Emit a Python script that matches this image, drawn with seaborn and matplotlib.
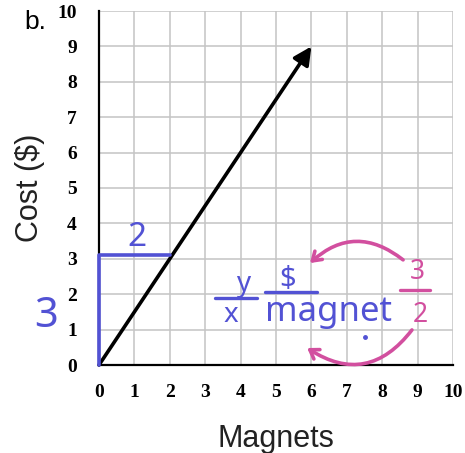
import matplotlib
matplotlib.use("Agg")
import matplotlib.pyplot as plt
from matplotlib.patches import FancyArrowPatch
import seaborn as sns
import pandas as pd

# Line: cost of magnets
magnets = [0, 6]
cost = [0, 9]
x_ticks = list(range(0, 11))
y_ticks = list(range(0, 11))

# Slope triangle: rise over run
run = 2
rise = 3

sns.set_theme(style="white")
plt.rcParams["font.family"] = ["Liberation Sans", "DejaVu Sans"]

BLUE = "#5252d4"
PINK = "#d24f9f"

fig = plt.figure(figsize=(4.65, 4.53), dpi=100)
ax = fig.add_axes([99 / 465, 1 - 365 / 453, 354 / 465, 354 / 453])

df = pd.DataFrame({"Magnets": magnets, "Cost": cost})
sns.lineplot(data=df, x="Magnets", y="Cost", ax=ax, color="black", lw=0)

ax.set_xlim(0, 10)
ax.set_ylim(0, 10)
ax.set_xticks(x_ticks)
ax.set_yticks(y_ticks)
ax.grid(True, color="#c4c4c4", lw=1.1)
ax.set_axisbelow(True)

for side in ["top", "right"]:
    ax.spines[side].set_visible(False)
for side in ["left", "bottom"]:
    ax.spines[side].set_color("black")
    ax.spines[side].set_linewidth(1.6)

ax.tick_params(axis="both", direction="inout", length=8, width=1.5,
               colors="black")
ax.tick_params(axis="x", pad=10)
ax.tick_params(axis="y", pad=12)
for lab in ax.get_xticklabels() + ax.get_yticklabels():
    lab.set_fontfamily("Liberation Serif")
    lab.set_fontweight("bold")
    lab.set_fontsize(14)

ax.set_xlabel("Magnets", fontsize=22, color="#222222", labelpad=16)
ax.set_ylabel("Cost ($)", fontsize=22, color="#222222", labelpad=9)

# Main arrow
ax.annotate("", xy=(magnets[1], cost[1]), xytext=(magnets[0], cost[0]),
            arrowprops=dict(arrowstyle="-|>,head_length=0.9,head_width=0.45",
                            color="black", lw=2.6, shrinkA=0, shrinkB=0),
            annotation_clip=False)

# Slope triangle drawn in blue pen
ax.plot([0, 0, run], [0, rise + 0.12, rise + 0.12], color=BLUE, lw=2.6,
        solid_capstyle="round", solid_joinstyle="round", clip_on=False, zorder=5)
ax.text(run / 2 + 0.07, rise + 0.6, str(run), color=BLUE, fontsize=24,
        ha="center", va="center", fontfamily="Noto Sans")
ax.text(-1.5, rise / 2 - 0.12, str(rise), color=BLUE, fontsize=30,
        ha="center", va="center", fontfamily="Noto Sans", clip_on=False)

# y / x  and  $ / magnet
ax.text(4.07, 2.28, "y", color=BLUE, fontsize=20, ha="center", va="center",
        fontfamily="Noto Sans", fontweight="medium")
ax.plot([3.28, 4.46], [1.89, 1.89], color=BLUE, lw=2.4, solid_capstyle="round")
ax.text(3.72, 1.42, "x", color=BLUE, fontsize=20, ha="center", va="center",
        fontfamily="Noto Sans", fontweight="medium")
ax.text(5.34, 2.42, "$", color=BLUE, fontsize=21, ha="center", va="center",
        fontfamily="Noto Sans", fontweight="bold")
ax.plot([4.69, 6.16], [2.06, 2.06], color=BLUE, lw=2.4, solid_capstyle="round")
ax.text(6.47, 1.50, "magnet", color=BLUE, fontsize=25, ha="center",
        va="center", fontfamily="Noto Sans", fontweight="medium")
ax.plot([7.51], [0.79], "o", color=BLUE, ms=2.5)

# 3 / 2 in pink
ax.text(8.98, 2.62, str(rise), color=PINK, fontsize=19, ha="center",
        va="center", fontfamily="Noto Sans", fontweight="medium")
ax.plot([8.5, 9.35], [2.12, 2.12], color=PINK, lw=2.4, solid_capstyle="round")
ax.text(9.07, 1.42, str(run), color=PINK, fontsize=19, ha="center",
        va="center", fontfamily="Noto Sans", fontweight="medium")

# Curved pink arrows
for start, end, rad in [((8.59, 2.97), (5.96, 2.88), 0.42),
                        ((8.84, 0.99), (5.88, 0.48), -0.46)]:
    arr = FancyArrowPatch(start, end, connectionstyle=f"arc3,rad={rad}",
                          arrowstyle="->,head_length=6,head_width=4",
                          color=PINK, lw=2.6, shrinkA=0, shrinkB=0,
                          clip_on=False, zorder=6)
    ax.add_patch(arr)

fig.text(35 / 465, 1 - 22 / 453, "b.", fontsize=19, ha="center", va="center",
         color="black")

fig.savefig("out.png", dpi=100)
